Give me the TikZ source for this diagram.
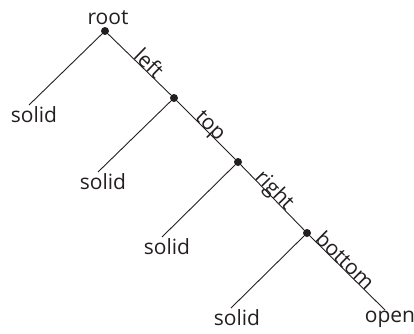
\documentclass[tikz,border=0pt]{standalone}
\usepackage{fontspec}
\setmainfont{Open Sans}
\definecolor{ink}{HTML}{231F20}
\begin{document}
\begin{tikzpicture}[x=1pt,y=-1pt,
  edge/.style={draw=ink,line width=0.9pt},
  dot/.style={circle,fill=ink,inner sep=0pt,minimum size=8pt},
  txt/.style={text=ink,font=\fontsize{21}{24}\selectfont,inner sep=0pt},
  leaf/.style={txt,anchor=north},
  lab/.style={txt,sloped,anchor=base}]
\useasboundingbox (0,0) rectangle (414,333);
\node[dot] (n1) at (105,31) {};
\node[dot] (n2) at (174,98) {};
\node[dot] (n3) at (238,162) {};
\node[dot] (n4) at (307,233) {};
\node[txt,anchor=base] (root) at (108,24) {root};
\node[leaf] (s1) at (34,106) {solid};
\node[leaf] (s2) at (103,173) {solid};
\node[leaf] (s3) at (167,238) {solid};
\node[leaf] (s4) at (237,309) {solid};
\node[leaf] (op) at (390,311) {open};
\draw[edge] (n1) -- ([xshift=-5pt,yshift=1pt]s1.north);
\draw[edge] (n2) -- ([xshift=-5pt,yshift=1pt]s2.north);
\draw[edge] (n3) -- ([xshift=-5pt,yshift=1pt]s3.north);
\draw[edge] (n4) -- ([xshift=-6pt,yshift=1pt]s4.north);
\draw[edge] (n4) -- ([xshift=-5pt,yshift=1pt]op.north) node[lab,pos=0.4] {bottom};
\draw[edge] (n1) -- (n2) node[lab,pos=0.57] {left};
\draw[edge] (n2) -- (n3) node[lab,pos=0.5] {top};
\draw[edge] (n3) -- (n4) node[lab,pos=0.46] {right};
\end{tikzpicture}
\end{document}
